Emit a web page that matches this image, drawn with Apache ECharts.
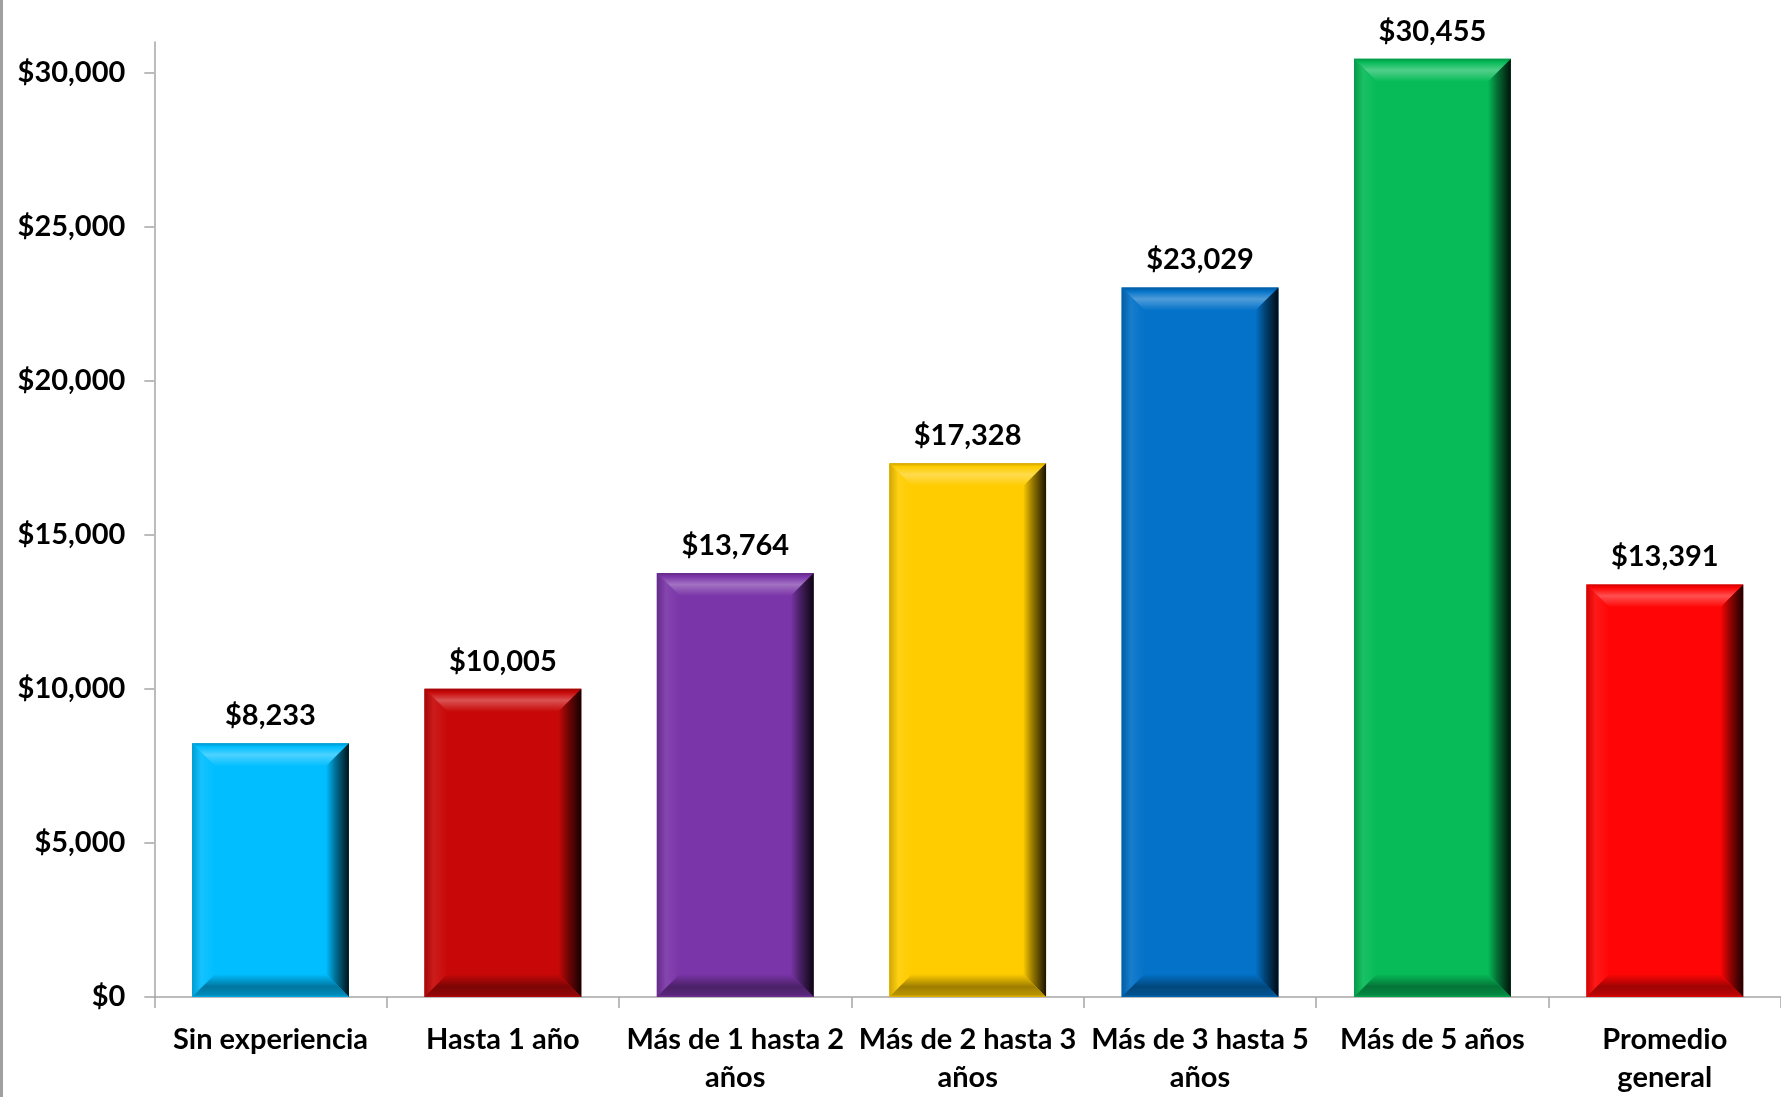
<!DOCTYPE html>
<html>
<head>
<meta charset="utf-8">
<script src="https://cdn.jsdelivr.net/npm/echarts@6/dist/echarts.min.js"></script>
<style>
html,body{margin:0;padding:0;background:#fff;}
#chart{width:1781px;height:1097px;}
</style>
</head>
<body>
<div id="chart"></div>
<script>
const categories = ['Sin experiencia', 'Hasta 1 año', 'Más de 1 hasta 2\naños', 'Más de 2 hasta 3\naños', 'Más de 3 hasta 5\naños', 'Más de 5 años', 'Promedio\ngeneral'];
const values = [8233, 10005, 13764, 17328, 23029, 30455, 13391];
const barColors = ['#00BEFF', '#C80808', '#7A35A8', '#FFCC00', '#0372C8', '#06BB58', '#FF0505'];
const yTicks = [0, 5000, 10000, 15000, 20000, 25000, 30000];

const FONT = 'Lato, "Open Sans", "Liberation Sans", sans-serif';
const fmt = v => '$' + v.toLocaleString('en-US');

function hexToRgb(h){ h=h.replace('#',''); return [parseInt(h.substr(0,2),16),parseInt(h.substr(2,2),16),parseInt(h.substr(4,2),16)]; }
function shade(h,f){ const c=hexToRgb(h).map(x=>Math.round(x*f)); return 'rgb('+c.join(',')+')'; }
function tint(h,f){ const c=hexToRgb(h).map(x=>Math.round(x+(255-x)*f)); return 'rgb('+c.join(',')+')'; }
function lg(x2,y2,stops){ return {type:'linear',x:0,y:0,x2:x2,y2:y2,colorStops:stops.map(s=>({offset:s[0],color:s[1]}))}; }

function renderItem(params, api){
  const i = api.value(0), v = api.value(1);
  const top = api.coord([i, v]);
  const bot = api.coord([i, 0]);
  const bw = api.size([1, 0])[0] * 0.675;
  const x0 = top[0] - bw/2, x1 = top[0] + bw/2, y0 = top[1], y1 = bot[1];
  const b = 23;
  const c = barColors[params.dataIndex];
  return {
    type: 'group',
    children: [
      {
        type: 'rect',
        shape: {x: x0, y: y0, width: bw, height: y1 - y0},
        style: {fill: c},
        textContent: {
          type: 'text',
          style: {text: fmt(v), fill: '#000', fontSize: 29, fontWeight: 'bold', fontFamily: FONT}
        },
        textConfig: {position: 'top', distance: 13}
      },
      {
        type: 'polygon',
        shape: {points: [[x0,y0],[x1,y0],[x1-b,y0+b],[x0+b,y0+b]]},
        style: {fill: lg(0,1,[[0,shade(c,0.8)],[0.15,c],[0.5,tint(c,0.3)],[1,c]])}
      },
      {
        type: 'polygon',
        shape: {points: [[x0,y0],[x0+b,y0+b],[x0+b,y1-b],[x0,y1]]},
        style: {fill: lg(1,0,[[0,shade(c,0.82)],[0.4,tint(c,0.08)],[1,c]])}
      },
      {
        type: 'polygon',
        shape: {points: [[x1,y0],[x1,y1],[x1-b,y1-b],[x1-b,y0+b]]},
        style: {fill: lg(1,0,[[0,c],[0.4,shade(c,0.6)],[1,shade(c,0.1)]])}
      },
      {
        type: 'polygon',
        shape: {points: [[x0,y1],[x1,y1],[x1-b,y1-b],[x0+b,y1-b]]},
        style: {fill: lg(0,1,[[0,c],[0.55,shade(c,0.62)],[0.9,shade(c,0.72)],[1,shade(c,0.9)]])}
      }
    ]
  };
}

const chart = echarts.init(document.getElementById('chart'), null, {renderer: 'canvas'});
chart.setOption({
  backgroundColor: '#fff',
  animation: false,
  graphic: [
    {type: 'rect', shape: {x: 0, y: 0, width: 3, height: 1097}, style: {fill: '#A0A0A0'}}
  ],
  grid: {left: 154.3, top: 42, width: 1634, bottom: 97, containLabel: false},
  xAxis: {
    type: 'category',
    data: categories,
    axisLine: {lineStyle: {color: '#A6A6A6', width: 1.5}},
    axisTick: {show: true, length: 11, lineStyle: {color: '#A6A6A6', width: 1.5}},
    axisLabel: {
      color: '#000', fontSize: 29, fontWeight: 'bold', fontFamily: FONT,
      margin: 23, lineHeight: 38.5, interval: 0
    }
  },
  yAxis: {
    type: 'value',
    min: 0,
    max: 31000,
    interval: 5000,
    splitLine: {show: false},
    axisLine: {show: true, lineStyle: {color: '#A6A6A6', width: 1.5}},
    axisTick: {show: true, length: 10, customValues: yTicks, lineStyle: {color: '#A6A6A6', width: 1.5}},
    axisLabel: {
      color: '#000', fontSize: 29, fontWeight: 'bold', fontFamily: FONT, margin: 29,
      customValues: yTicks,
      formatter: v => fmt(v)
    }
  },
  series: [{
    type: 'custom',
    renderItem: renderItem,
    data: values.map((v, i) => [i, v]),
    encode: {x: 0, y: 1}
  }]
});
</script>
</body>
</html>
